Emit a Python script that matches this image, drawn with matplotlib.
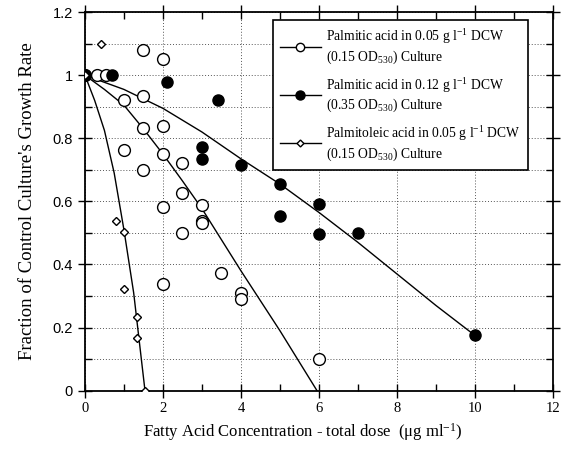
import matplotlib
matplotlib.use("Agg")
import matplotlib.pyplot as plt
from matplotlib.lines import Line2D
from matplotlib.ticker import MultipleLocator

plt.rcParams["font.family"] = "Liberation Serif"
plt.rcParams["mathtext.fontset"] = "custom"
plt.rcParams["mathtext.rm"] = "Liberation Serif"
plt.rcParams["mathtext.default"] = "regular"

# palmitic acid, 0.05 g/l DCW culture (open circles)
palm05_x = [0.0, 0.3, 0.55, 1.0, 1.0, 1.5, 1.5, 1.5, 1.5, 2.0, 2.0, 2.0, 2.0, 2.0,
            2.5, 2.5, 2.5, 3.0, 3.0, 3.0, 3.5, 4.0, 4.0, 6.0]
palm05_y = [1.0, 1.0, 1.0, 0.92, 0.762, 1.08, 0.933, 0.834, 0.698, 1.052, 0.84, 0.749,
            0.582, 0.339, 0.723, 0.626, 0.50, 0.588, 0.538, 0.53, 0.372, 0.308, 0.289, 0.10]

# palmitic acid, 0.12 g/l DCW culture (filled circles)
palm12_x = [0.0, 0.7, 2.1, 3.4, 3.0, 3.0, 4.0, 5.0, 5.0, 6.0, 6.0, 7.0, 10.0]
palm12_y = [1.0, 1.0, 0.98, 0.922, 0.771, 0.734, 0.714, 0.654, 0.554, 0.591, 0.498, 0.501, 0.175]

# palmitoleic acid, 0.05 g/l DCW culture (diamonds)
pole05_x = [0.0, 0.4, 0.8, 1.0, 1.0, 1.33, 1.33, 1.55]
pole05_y = [1.0, 1.10, 0.538, 0.503, 0.321, 0.234, 0.166, 0.0]

# fitted trend curves
fit05_x = [0.0, 0.5, 1.0, 1.5, 2.0, 2.5, 3.0, 4.0, 5.0, 5.95]
fit05_y = [1.0, 0.955, 0.905, 0.83, 0.75, 0.665, 0.577, 0.38, 0.19, 0.0]
fit12_x = [0, 1, 2, 3, 4, 5, 6, 7, 8, 9, 10]
fit12_y = [1.0, 0.955, 0.895, 0.82, 0.735, 0.655, 0.565, 0.47, 0.37, 0.27, 0.175]
fitpo_x = [0.0, 0.25, 0.5, 0.75, 1.0, 1.25, 1.54]
fitpo_y = [1.0, 0.92, 0.825, 0.69, 0.51, 0.31, 0.0]

xticks = [0, 2, 4, 6, 8, 10, 12]
yticks = [0, 0.2, 0.4, 0.6, 0.8, 1.0, 1.2]
ytick_labels = ["0", "0.2", "0.4", "0.6", "0.8", "1", "1.2"]

labels = [
    "Palmitic acid in 0.05 g l$^{-1}$ DCW\n(0.15 OD$_{530}$) Culture",
    "Palmitic acid in 0.12 g l$^{-1}$ DCW\n(0.35 OD$_{530}$) Culture",
    "Palmitoleic acid in 0.05 g l$^{-1}$ DCW\n(0.15 OD$_{530}$) Culture",
]

fig = plt.figure(figsize=(5.7, 4.5), dpi=100)
ax = fig.add_axes([0.149, 0.132, 0.821, 0.841])

ax.plot(fit05_x, fit05_y, color="black", lw=1.0, zorder=2)
ax.plot(fit12_x, fit12_y, color="black", lw=1.0, zorder=2)
ax.plot(fitpo_x, fitpo_y, color="black", lw=1.0, zorder=2)

ax.plot(palm05_x, palm05_y, ls="none", marker="o", ms=8.5, mfc="white", mec="black", mew=1.0, zorder=3)
ax.plot(palm12_x, palm12_y, ls="none", marker="o", ms=8.0, mfc="black", mec="black", zorder=4)
ax.plot(pole05_x, pole05_y, ls="none", marker="D", ms=4.5, mfc="white", mec="black", mew=1.0, zorder=5)

ax.set_xlim(0, 12)
ax.set_ylim(0, 1.2)
ax.set_xticks(xticks)
ax.set_yticks(yticks, ytick_labels)
ax.xaxis.set_minor_locator(MultipleLocator(1))
ax.yaxis.set_minor_locator(MultipleLocator(0.1))

ax.tick_params(which="major", direction="inout", length=10, width=1.0,
               top=True, right=True, labelsize=10.5)
ax.tick_params(which="minor", direction="in", length=5, width=1.0, top=True, right=True)
for lab in ax.get_yticklabels():
    lab.set_family("Liberation Sans")
    lab.set_fontsize(10.5)

ax.grid(which="major", axis="x", ls=(0, (1, 2)), color="#555555", lw=0.7)
ax.grid(which="both", axis="y", ls=(0, (1, 2)), color="#555555", lw=0.7)
ax.set_axisbelow(True)
for sp in ax.spines.values():
    sp.set_linewidth(1.3)

ax.set_xlabel("Fatty Acid Concentration - total dose  ($\\mu$g ml$^{-1}$)", fontsize=12,
              labelpad=4, x=0.465)
ax.set_ylabel("Fraction of Control Culture's Growth Rate", fontsize=13.5, labelpad=12)

handles = [
    Line2D([], [], color="black", lw=1.0, marker="o", ms=6, mfc="white", mec="black"),
    Line2D([], [], color="black", lw=1.0, marker="o", ms=6.5, mfc="black", mec="black"),
    Line2D([], [], color="black", lw=1.0, marker="D", ms=3.5, mfc="white", mec="black"),
]
leg = ax.legend(handles, labels, loc="upper right", bbox_to_anchor=(0.955, 0.99),
                fontsize=9.8, frameon=True, fancybox=False, edgecolor="black",
                framealpha=1.0, handlelength=3.0, handletextpad=0.35,
                labelspacing=0.7, borderpad=0.55, borderaxespad=0.3)
leg.get_frame().set_linewidth(1.2)

fig.savefig("out.png", dpi=100)
